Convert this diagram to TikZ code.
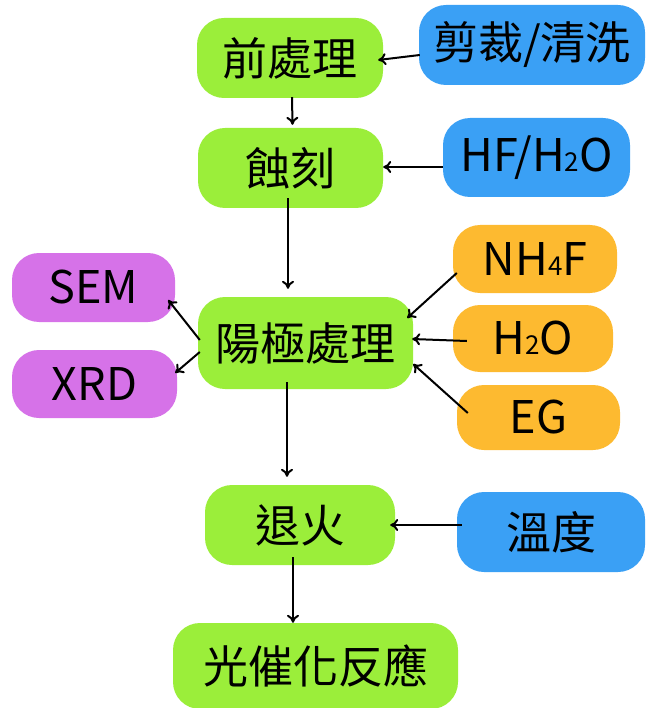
\documentclass[tikz,border=0pt]{standalone}
\usepackage{fontspec}
\setmainfont{Noto Sans CJK TC}
\usetikzlibrary{arrows.meta,calc}
\definecolor{cgreen}{RGB}{155,238,58}
\definecolor{cblue}{RGB}{58,160,245}
\definecolor{cpurple}{RGB}{214,114,232}
\definecolor{corange}{RGB}{253,186,48}
\newcommand{\sbs}[1]{{\fontsize{26}{26}\selectfont #1}}
\begin{document}
\begin{tikzpicture}[x=1pt,y=-1pt,
  box/.style={rounded corners=27pt, inner sep=0pt, align=center,
    font=\fontsize{45}{50}\selectfont},
  gbox/.style={box, fill=cgreen},
  bbox/.style={box, fill=cblue},
  pbox/.style={box, fill=cpurple},
  obox/.style={box, fill=corange},
  arr/.style={-{To[length=8pt,width=12pt]}, line width=2pt, black}]
\useasboundingbox (0,0) rectangle (646,708);
% main chain
\node[gbox, minimum width=186pt, minimum height=80pt] (pre) at (290,58) {前處理};
\node[gbox, minimum width=185pt, minimum height=80pt] (etch) at (290.5,168) {蝕刻};
\node[gbox, minimum width=215pt, minimum height=92pt] (anod) at (305.5,343) {陽極處理};
\node[gbox, minimum width=190pt, minimum height=80pt] (anneal) at (300,525) {退火};
\node[gbox, minimum width=285pt, minimum height=86pt] (photo) at (315.5,666) {光催化反應};
% inputs
\node[bbox, minimum width=226pt, minimum height=80pt] (cut) at (532,45) {剪裁/清洗};
\node[bbox, minimum width=187pt, minimum height=79pt] (hf) at (536.5,157.5) {HF/H\sbs{2}O};
\node[obox, minimum width=164pt, minimum height=68pt] (nh4f) at (535,259) {NH\sbs{4}F};
\node[obox, minimum width=160pt, minimum height=67pt] (h2o) at (533,338.5) {H\sbs{2}O};
\node[obox, minimum width=163pt, minimum height=65pt] (eg) at (538.5,417.5) {EG};
\node[bbox, minimum width=188pt, minimum height=80pt] (temp) at (551,532) {溫度};
% outputs
\node[pbox, minimum width=163pt, minimum height=69pt] (sem) at (93.5,287.5) {SEM};
\node[pbox, minimum width=165pt, minimum height=68pt] (xrd) at (94.5,384) {XRD};
% connectors
\draw[arr] ($(cut.west)+(1,10)$) -- ($(pre.east)+(-5,2)$);
\draw[arr] ($(pre.south)+(2,-1)$) -- ($(etch.north)+(2,-3)$);
\draw[arr] ($(hf.west)+(0,9.5)$) -- ($(etch.east)+(0,-1)$);
\draw[arr] ($(etch.south)+(-2.5,-10)$) -- ($(anod.north)+(-17.5,-8)$);
\draw[arr] ($(anod.west)+(2,-3)$) -- ($(sem.east)+(-7,12.5)$);
\draw[arr] ($(anod.west)+(2,9)$) -- ($(xrd.east)+(-2,-11)$);
\draw[arr] ($(nh4f.west)+(4,14)$) -- ($(anod.east)+(-6,-25)$);
\draw[arr] ($(h2o.west)+(14,2.5)$) -- ($(anod.east)+(-1,-4)$);
\draw[arr] ($(eg.west)+(11,-4.5)$) -- ($(anod.east)+(0,21)$);
\draw[arr] ($(anod.south)+(-18.5,-7)$) -- ($(anneal.north)+(-13,-8)$);
\draw[arr] ($(temp.west)+(5,-7)$) -- ($(anneal.east)+(-5,0)$);
\draw[arr] ($(anneal.south)+(-7,-8)$) -- ($(photo.north)+(-22.5,0)$);
\end{tikzpicture}
\end{document}
